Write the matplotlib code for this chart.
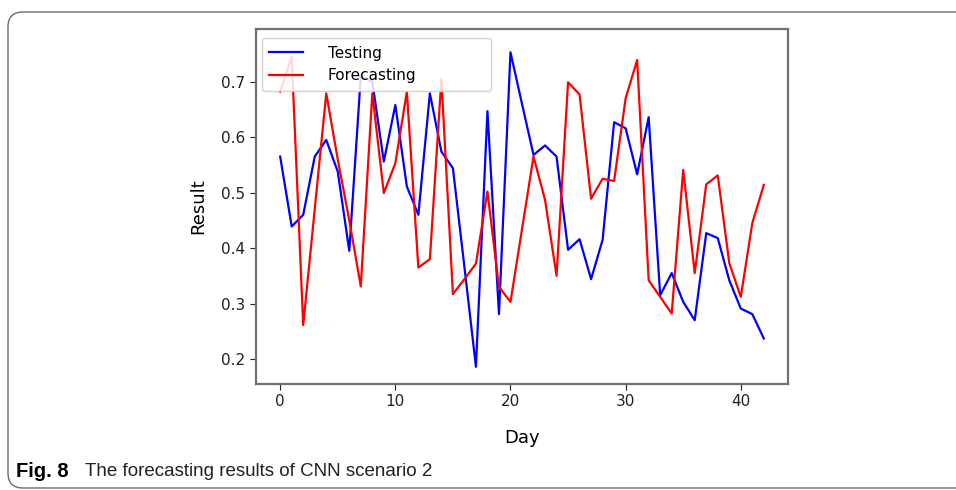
'''
Forecasting results of CNN scenario 2: testing vs forecasting per day.
'''

import numpy as np
import matplotlib
matplotlib.use('Agg')
import matplotlib.pyplot as plt
from matplotlib.patches import FancyBboxPatch

# values, one per day (0..42)
testing = [0.565, 0.439, 0.460, 0.565, 0.595, 0.538, 0.395, 0.710, 0.700, 0.556,
           0.658, 0.511, 0.460, 0.679, 0.574, 0.544, 0.366, 0.186, 0.647, 0.281,
           0.753, 0.660, 0.568, 0.585, 0.565, 0.397, 0.416, 0.344, 0.415, 0.627,
           0.616, 0.533, 0.636, 0.315, 0.355, 0.303, 0.270, 0.427, 0.418, 0.342,
           0.291, 0.281, 0.237]
forecasting = [0.682, 0.745, 0.261, 0.470, 0.679, 0.560, 0.450, 0.331, 0.679, 0.499,
               0.553, 0.682, 0.365, 0.380, 0.705, 0.317, 0.344, 0.372, 0.502, 0.330,
               0.303, 0.434, 0.565, 0.487, 0.350, 0.699, 0.677, 0.489, 0.525, 0.521,
               0.670, 0.739, 0.342, 0.312, 0.282, 0.541, 0.355, 0.515, 0.531, 0.373,
               0.312, 0.445, 0.514]
days = np.arange(len(testing))

fig = plt.figure(figsize=(9.56, 4.90), dpi=100)

# outer rounded frame of the figure panel
frame = FancyBboxPatch((0.08, 0.02), 10.0, 4.76,
                       boxstyle='round,pad=0,rounding_size=0.15',
                       transform=fig.dpi_scale_trans, fill=False,
                       edgecolor='#6b6b6b', linewidth=1.0, clip_on=False)
fig.patches.append(frame)

ax = fig.add_axes([256 / 956, 1 - 384 / 490, 532 / 956, 355 / 490])
ax.plot(days, testing, color='blue', linewidth=1.6, label='Testing')
ax.plot(days, forecasting, color='red', linewidth=1.6, label='Forecasting')

ax.set_ylim(0.155, 0.795)
ax.set_xticks([0, 10, 20, 30, 40])
ax.set_yticks([0.2, 0.3, 0.4, 0.5, 0.6, 0.7])
ax.tick_params(labelsize=11, colors='#222222', length=4)
for s in ax.spines.values():
    s.set_color('#707070')
    s.set_linewidth(1.6)

ax.set_xlabel('Day', fontsize=13, labelpad=14)
ax.set_ylabel('Result', fontsize=13, labelpad=10)

ax.legend(loc='upper left', bbox_to_anchor=(0.011, 0.5, 0.43, 0.475),
          mode='expand', fontsize=11, handlelength=2.2, handletextpad=1.6,
          borderaxespad=0, borderpad=0.5, labelspacing=0.5,
          fancybox=True, framealpha=0.85)

cap_font = ['Liberation Sans', 'DejaVu Sans']
fig.text(16 / 956, 1 - 471 / 490, 'Fig. 8', fontsize=14.5, fontweight='bold',
         family=cap_font, va='center', ha='left')
fig.text(85 / 956, 1 - 471 / 490, 'The forecasting results of CNN scenario 2',
         fontsize=13.5, family=cap_font, va='center', ha='left', color='#222222')

fig.savefig('out.png', dpi=100)
